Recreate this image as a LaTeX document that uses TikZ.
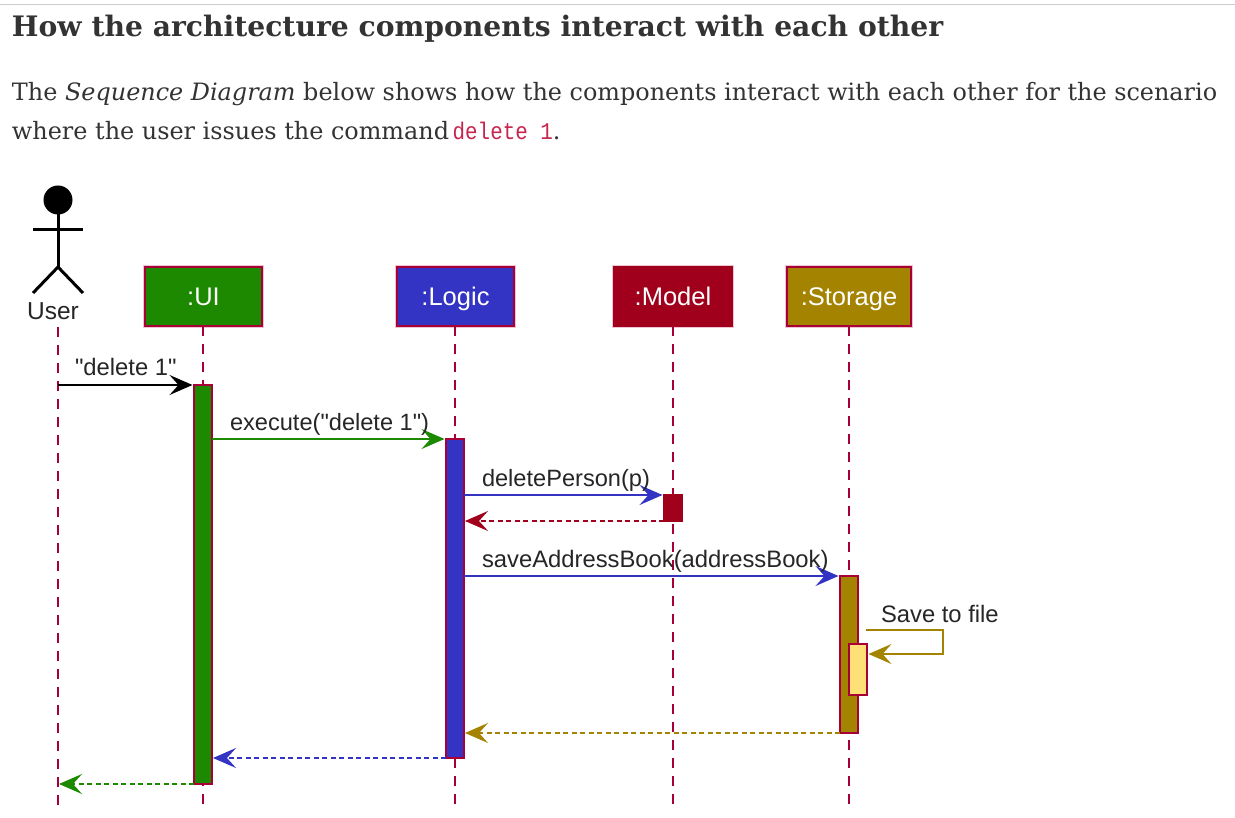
\documentclass[tikz,border=0pt]{standalone}
\usepackage{fontspec}
\setmainfont{DejaVu Serif}
\setsansfont[Ligatures=TeXOff]{Liberation Sans}
\newfontfamily\codefont[FakeStretch=0.87]{Liberation Mono}
\usetikzlibrary{arrows.meta,calc}
\definecolor{life}{HTML}{A80036}
\definecolor{halo}{HTML}{EFC4D2}
\definecolor{cgreen}{HTML}{1D8900}
\definecolor{cblue}{HTML}{3333C4}
\definecolor{cred}{HTML}{A0001C}
\definecolor{cgold}{HTML}{A38300}
\definecolor{cyellow}{HTML}{FFE077}
\definecolor{ink}{HTML}{333333}
\definecolor{code}{HTML}{C7254E}
\tikzset{
  x=1pt,y=-1pt,
  txt/.style={anchor=base west,inner sep=0pt,outer sep=0pt,text=ink},
  part/.style={draw=life,line width=2pt,inner sep=0pt,outer sep=0pt,text=white,
    text height=19pt,text depth=0pt,
    font=\sffamily\fontsize{25.5}{25.5}\selectfont,
    preaction={draw=halo,line width=4pt}},
  act/.style={draw=life,line width=1.6pt,inner sep=0pt,outer sep=0pt,minimum width=18pt},
  lifeline/.style={draw=life,line width=1.5pt,dash pattern=on 10pt off 8pt},
  lab/.style={anchor=base west,inner sep=0pt,outer sep=0pt,text=black!85,
    font=\sffamily\fontsize{23.8}{23.8}\selectfont},
  narrowlab/.style={font=\sffamily\fontsize{23.6}{23.6}\selectfont},
  msg/.style={line width=1.4pt,shorten >=1.5pt,-{Stealth[length=23pt,width=20pt,inset=9pt]}},
  ret/.style={line width=1.2pt,shorten >=1pt,dash pattern=on 5pt off 3.5pt,-{Stealth[length=23pt,width=20pt,inset=9pt]}},
  stick/.style={draw=black,line width=3pt}
}
\begin{document}
\begin{tikzpicture}
\useasboundingbox (0,0) rectangle (1235,818);
\fill[white] (0,0) rectangle (1235,818);
\draw[line width=1pt,color=black!20] (0,4.5) -- (1235,4.5);
% prose
\node[txt,font=\bfseries\fontsize{28.2}{28.2}\selectfont] (head) at (12,37) {How the architecture components interact with each other};
\node[txt,font=\fontsize{23.9}{23.9}\selectfont] (p1) at (12,101) {The \textit{Sequence Diagram} below shows how the components interact with each other for the scenario};
\node[txt,font=\fontsize{23.9}{23.9}\selectfont] (p2) at (12,140) {where the user issues the command\kern-4pt\ {\codefont\fontsize{24}{24}\selectfont\color{code}delete 1}.};
% actor
\coordinate (uTop) at (58,200);
\coordinate (uHip) at (58,267);
\coordinate (uArmL) at (33,230);
\coordinate (uArmR) at (83,230);
\coordinate (uFootL) at (33,293);
\coordinate (uFootR) at (83,293);
\coordinate (uLifeTop) at (58,327);
\coordinate (uLifeEnd) at (58,808);
\node[circle,fill=black,minimum size=29pt,inner sep=0pt,outer sep=0pt] (uHead) at (uTop) {};
\draw[stick] (uHead) -- (uHip);
\draw[stick] (uArmL) -- (uArmR);
\draw[stick] (uFootL) -- (uHip) -- (uFootR);
\node[lab,anchor=base,text=black!85,font=\sffamily\fontsize{24.5}{24.5}\selectfont] (userLab) at (53,320) {User};
% participants
\node[part,fill=cgreen,minimum width=117pt,minimum height=59pt] (ui) at (203.5,296.5) {:UI};
\node[part,fill=cblue,minimum width=117pt,minimum height=59pt] (logic) at (455.5,296.5) {:Logic};
\node[part,draw=cred,fill=cred,minimum width=118pt,minimum height=59pt] (model) at (673,296.5) {:Model};
\node[part,fill=cgold,minimum width=124pt,minimum height=59pt] (storage) at (849,296.5) {:Storage};
% lifelines
\coordinate (uiEnd) at (203,808);
\coordinate (logicEnd) at (455,808);
\coordinate (modelEnd) at (673,808);
\coordinate (storageEnd) at (849,808);
\draw[lifeline] (uLifeTop) -- (uLifeEnd);
\draw[lifeline] (ui.south -| uiEnd) -- (uiEnd);
\draw[lifeline] (logic.south -| logicEnd) -- (logicEnd);
\draw[lifeline] (model.south -| modelEnd) -- (modelEnd);
\draw[lifeline] (storage.south -| storageEnd) -- (storageEnd);
% activations
\node[act,fill=cgreen,minimum height=399pt] (uiAct) at (203,584.5) {};
\node[act,fill=cblue,minimum height=319pt] (logicAct) at (455,598.5) {};
\node[act,draw=cred,fill=cred,minimum height=26pt] (modelAct) at (673,508) {};
\node[act,fill=cgold,minimum height=157pt] (storeAct) at (849,654.5) {};
\node[act,fill=cyellow,minimum height=51pt] (fileAct) at (858,669.5) {};
% messages
\draw[msg,black] (uLifeEnd |- uiAct.north) -- (uiAct.north west);
\draw[msg,cgreen] (uiAct.east |- logicAct.north) -- (logicAct.north west);
\draw[msg,cblue] (logicAct.east |- modelAct.north) -- (modelAct.north west);
\draw[ret,cred] (modelAct.south west) -- (logicAct.east |- modelAct.south);
\draw[msg,cblue] (logicAct.east |- storeAct.north) -- (storeAct.north west);
\coordinate (selfA) at (866,630);
\coordinate (selfB) at (943,630);
\coordinate (selfC) at (943,654);
\draw[msg,cgold,line width=1.2pt] (selfA) -- (selfB) -- (selfC) -- (fileAct.east |- selfC);
\draw[ret,cgold] (storeAct.south west) -- (logicAct.east |- storeAct.south);
\draw[ret,cblue] (logicAct.south west) -- (uiAct.east |- logicAct.south);
\draw[ret,cgreen] (uiAct.south west) -- (uLifeEnd |- uiAct.south);
% labels
\node[lab] (l1) at (75,376) {"delete 1"};
\node[lab,narrowlab] (l2) at (230,431) {execute("delete 1")};
\node[lab,narrowlab] (l3) at (482,486) {deletePerson(p)};
\node[lab] (l4) at (482,567) {saveAddressBook(addressBook)};
\node[lab] (l5) at (881,622) {Save to file};
\end{tikzpicture}
\end{document}
